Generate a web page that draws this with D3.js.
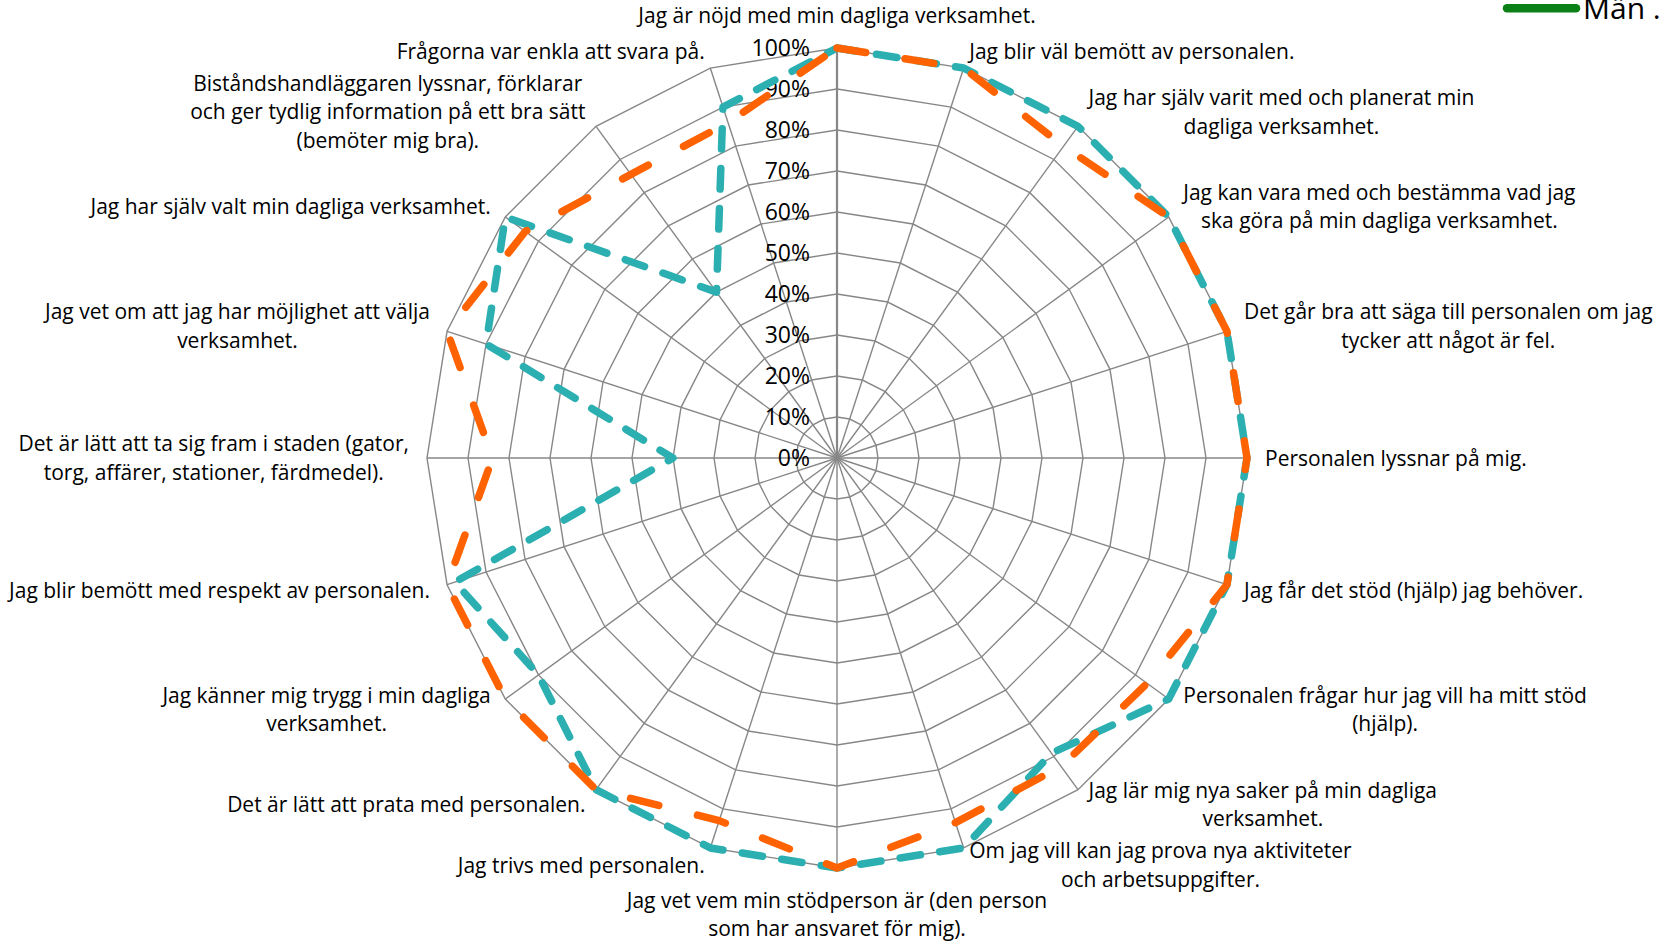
<!DOCTYPE html>
<html>
<head>
<meta charset="utf-8">
<script src="https://cdn.jsdelivr.net/npm/d3@7"></script>
<style>
  html, body { margin: 0; padding: 0; background: #ffffff; overflow: hidden; }
  svg { display: block; }
  text { font-family: "Open Sans", Lato, sans-serif; fill: #000; }
</style>
</head>
<body>
<svg id="chart" width="1664" height="943"></svg>
<script>
// ---------- data ----------
const categories = [
  "Jag är nöjd med min dagliga verksamhet.",
  "Jag blir väl bemött av personalen.",
  "Jag har själv varit med och planerat min\ndagliga verksamhet.",
  "Jag kan vara med och bestämma vad jag\nska göra på min dagliga verksamhet.",
  "Det går bra att säga till personalen om jag\ntycker att något är fel.",
  "Personalen lyssnar på mig.",
  "Jag får det stöd (hjälp) jag behöver.",
  "Personalen frågar hur jag vill ha mitt stöd\n(hjälp).",
  "Jag lär mig nya saker på min dagliga\nverksamhet.",
  "Om jag vill kan jag prova nya aktiviteter\noch arbetsuppgifter.",
  "Jag vet vem min stödperson är (den person\nsom har ansvaret för mig).",
  "Jag trivs med personalen.",
  "Det är lätt att prata med personalen.",
  "Jag känner mig trygg i min dagliga\nverksamhet.",
  "Jag blir bemött med respekt av personalen.",
  "Det är lätt att ta sig fram i staden (gator,\ntorg, affärer, stationer, färdmedel).",
  "Jag vet om att jag har möjlighet att välja\nverksamhet.",
  "Jag har själv valt min dagliga verksamhet.",
  "Biståndshandläggaren lyssnar, förklarar\noch ger tydlig information på ett bra sätt\n(bemöter mig bra).",
  "Frågorna var enkla att svara på."
];
const seriesTeal   = [100, 100, 100, 100, 100, 100, 100, 100, 89, 100, 100, 100, 100, 90, 98, 40, 90, 100, 50, 90];
const seriesOrange = [100, 100, 94, 100, 100, 100, 100, 93.5, 93, 93.5, 100, 93, 100, 100, 100, 84, 100, 94, 85.5, 86];
const tickValues = [0, 10, 20, 30, 40, 50, 60, 70, 80, 90, 100];
const tickLabels = ["0%", "10%", "20%", "30%", "40%", "50%", "60%", "70%", "80%", "90%", "100%"];
const legendLabels = ["Män ."];

// ---------- layout ----------
const cx = 837, cy = 458, R = 410;
const svg = d3.select("#chart");
const g = svg.append("g").attr("transform", `translate(${cx},${cy})`);

const n = categories.length;
const rScale = d3.scaleLinear().domain([0, 100]).range([0, R]);
const aScale = d3.scaleLinear().domain([0, n]).range([0, 2 * Math.PI]);

// grid rings (polygons)
const ringLine = d3.lineRadial()
  .angle((d, i) => aScale(i))
  .radius(d => rScale(d))
  .curve(d3.curveLinearClosed);

tickValues.filter(v => v > 0).forEach(v => {
  g.append("path")
    .attr("d", ringLine(d3.range(n).map(() => v)))
    .attr("fill", "none")
    .attr("stroke", "#878787")
    .attr("stroke-width", 1.4);
});

// spokes
d3.range(n).forEach(i => {
  const a = aScale(i);
  g.append("line")
    .attr("x1", 0).attr("y1", 0)
    .attr("x2", rScale(100) * Math.sin(a))
    .attr("y2", -rScale(100) * Math.cos(a))
    .attr("stroke", "#878787")
    .attr("stroke-width", i === 0 ? 2.2 : 1.4);
});

// tick labels
tickValues.forEach((v, i) => {
  g.append("text")
    .attr("x", -27)
    .attr("y", -rScale(v))
    .attr("dy", "0.36em")
    .attr("text-anchor", "end")
    .style("font-size", "23px")
    .text(tickLabels[i]);
});

// series
const seriesLine = d3.lineRadial()
  .angle((d, i) => aScale(i))
  .radius(d => rScale(d))
  .curve(d3.curveLinearClosed);

g.append("path")
  .attr("d", seriesLine(seriesTeal))
  .attr("fill", "none")
  .attr("stroke", "#2CAFB1")
  .attr("stroke-width", 7.5)
  .attr("stroke-linecap", "round")
  .attr("stroke-linejoin", "round")
  .attr("stroke-dasharray", "20.5 19.5");

g.append("path")
  .attr("d", seriesLine(seriesOrange))
  .attr("fill", "none")
  .attr("stroke", "#FF6200")
  .attr("stroke-width", 7.5)
  .attr("stroke-linecap", "round")
  .attr("stroke-linejoin", "round")
  .attr("stroke-dasharray", "29 40");

// category labels
const fontSize = 21;
const lineH = 28.5;
const labelOffset = 18;
categories.forEach((c, i) => {
  const a = aScale(i);
  const s = Math.sin(a), co = Math.cos(a);
  const ax = (R + labelOffset) * s;
  const ay = -(R + labelOffset) * co;
  const lines = c.split("\n");
  const t = g.append("text").style("font-size", fontSize + "px");
  const spans = lines.map(l => t.append("tspan").text(l));
  const widths = spans.map(sp => sp.node().getComputedTextLength());
  const w = d3.max(widths);
  const h = lines.length * lineH;
  let left;
  if (Math.abs(s) < 0.1) left = ax - w / 2;
  else if (s > 0) left = ax;
  else left = ax - w;
  let top;
  if (Math.abs(s) < 0.1) top = co > 0 ? ay - h : ay;
  else top = ay - h / 2;
  spans.forEach((sp, k) => {
    sp.attr("x", left + w / 2)
      .attr("y", top + lineH * (k + 0.5))
      .attr("dy", "0.36em")
      .attr("text-anchor", "middle");
  });
});

// legend (partly outside the page, as in the source)
const leg = svg.append("g");
leg.append("line")
  .attr("x1", 1507).attr("x2", 1576)
  .attr("y1", 8.3).attr("y2", 8.3)
  .attr("stroke", "#0B8016")
  .attr("stroke-width", 8.5)
  .attr("stroke-linecap", "round");
leg.append("text")
  .attr("x", 1583).attr("y", 18.5)
  .style("font-size", "30px")
  .text(legendLabels[0]);
</script>
</body>
</html>
